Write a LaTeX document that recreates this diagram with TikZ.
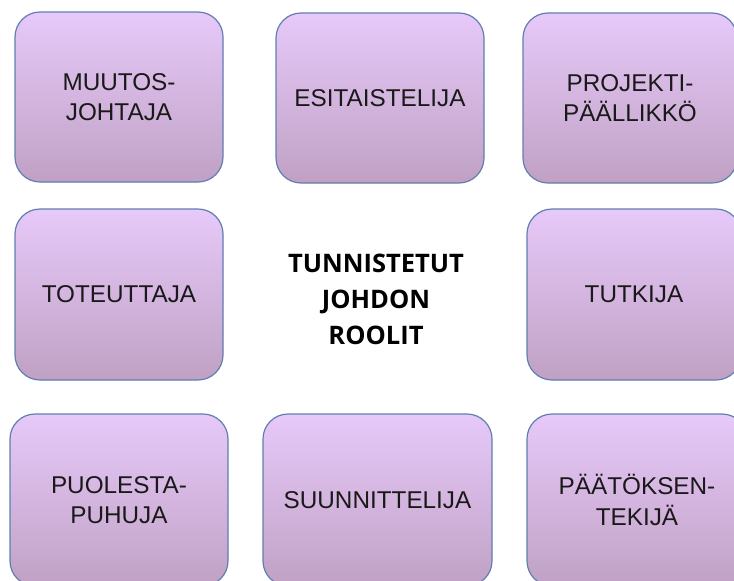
\documentclass[tikz,border=0pt]{standalone}
\usepackage{fontspec}
\setmainfont{Liberation Sans}
\newfontfamily\centerfont{Open Sans}
\definecolor{boxtop}{RGB}{231,201,250}
\definecolor{boxbottom}{RGB}{192,161,196}
\definecolor{boxline}{RGB}{96,126,176}
\tikzset{
  rolebox/.style={draw=boxline, line width=1.2pt, rounded corners=25pt,
    top color=boxtop, bottom color=boxbottom, inner sep=0pt,
    minimum width=208pt, minimum height=170pt, align=center,
    font=\fontsize{24.3}{30.5}\selectfont, text=black!90},
  titletext/.style={align=center, inner sep=0pt,
    font=\centerfont\bfseries\fontsize{25.5}{36}\selectfont}
}
\begin{document}
\begin{tikzpicture}[x=1pt,y=-1pt]
\useasboundingbox (0,0) rectangle (734,581);
\clip (0,0) rectangle (734,581);
\fill[white] (0,0) rectangle (734,581);
\node[rolebox] (muutos) at (119,97) {MUUTOS-\\JOHTAJA};
\node[rolebox] (esit) at (380,98) {ESITAISTELIJA};
\node[rolebox, minimum width=214pt] (proj) at (630,98) {PROJEKTI-\\PÄÄLLIKKÖ};
\node[rolebox, minimum height=171pt] (tot) at (119,294.5) {TOTEUTTAJA};
\node[rolebox, minimum width=214pt, minimum height=171pt] (tutk) at (634,294.5) {TUTKIJA};
\node[rolebox, minimum width=218pt, minimum height=172pt] (puol) at (119,500) {PUOLESTA-\\PUHUJA};
\node[rolebox, minimum width=229pt, minimum height=172pt] (suun) at (377.5,500) {SUUNNITTELIJA};
\node[rolebox, minimum width=220pt, minimum height=172pt] (paat) at (637,500) {PÄÄTÖKSEN-\\TEKIJÄ};
\node[titletext] (title) at (376,299) {TUNNISTETUT\\JOHDON\\ROOLIT};
\end{tikzpicture}
\end{document}
